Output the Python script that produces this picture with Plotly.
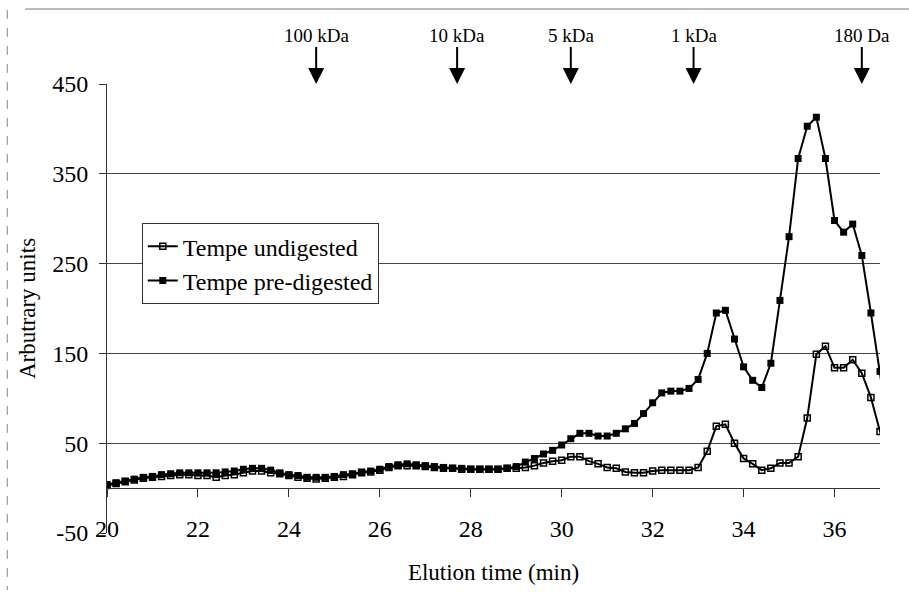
import plotly.graph_objects as go

# Elution time (min)
times = [20.0, 20.2, 20.4, 20.6, 20.8, 21.0, 21.2, 21.4, 21.6, 21.8,
         22.0, 22.2, 22.4, 22.6, 22.8, 23.0, 23.2, 23.4, 23.6, 23.8,
         24.0, 24.2, 24.4, 24.6, 24.8, 25.0, 25.2, 25.4, 25.6, 25.8,
         26.0, 26.2, 26.4, 26.6, 26.8, 27.0, 27.2, 27.4, 27.6, 27.8,
         28.0, 28.2, 28.4, 28.6, 28.8, 29.0, 29.2, 29.4, 29.6, 29.8,
         30.0, 30.2, 30.4, 30.6, 30.8, 31.0, 31.2, 31.4, 31.6, 31.8,
         32.0, 32.2, 32.4, 32.6, 32.8, 33.0, 33.2, 33.4, 33.6, 33.8,
         34.0, 34.2, 34.4, 34.6, 34.8, 35.0, 35.2, 35.4, 35.6, 35.8,
         36.0, 36.2, 36.4, 36.6, 36.8, 37.0, 37.2]

undigested = [3, 5, 7, 9, 11, 12, 13, 14, 15, 15,
              14, 14, 12, 14, 15, 17, 19, 19, 17, 16,
              14, 12, 11, 10, 11, 12, 13, 15, 17, 18,
              20, 23, 25, 25, 25, 24, 23, 22, 22, 21,
              21, 21, 21, 21, 22, 22, 23, 25, 28, 30,
              31, 35, 35, 30, 27, 23, 22, 18, 17, 17,
              19, 20, 20, 20, 20, 23, 41, 69, 71, 50,
              33, 27, 20, 22, 28, 28, 35, 78, 149, 158,
              134, 134, 143, 128, 101, 63, 30]

predigested = [4, 6, 8, 10, 12, 13, 15, 16, 17, 17,
               17, 17, 17, 18, 19, 21, 22, 22, 20, 17,
               15, 14, 12, 12, 12, 13, 15, 16, 18, 19,
               21, 24, 26, 27, 26, 25, 24, 23, 22, 22,
               21, 21, 21, 21, 22, 24, 29, 33, 38, 42,
               48, 55, 61, 61, 58, 58, 61, 66, 72, 83,
               95, 106, 108, 108, 111, 121, 150, 195, 198, 166,
               135, 120, 112, 139, 209, 280, 367, 403, 413, 367,
               298, 285, 294, 259, 195, 130, 60]

series_names = ["Tempe undigested", "Tempe pre-digested"]

mw_labels = ["100 kDa", "10 kDa", "5 kDa", "1 kDa", "180 Da"]
mw_times = [24.6, 27.7, 30.2, 32.9, 36.6]

x_ticks = [20, 22, 24, 26, 28, 30, 32, 34, 36]
y_ticks = [-50, 50, 150, 250, 350, 450]
y_tick_text = ["-50", "50", "150", "250", "350", "450"]

FONT = "Liberation Serif, Times New Roman, serif"

fig = go.Figure()
fig.add_trace(go.Scatter(
    x=times, y=undigested, name=series_names[0], mode="lines+markers",
    line=dict(color="black", width=2),
    marker=dict(symbol="square-open", size=6, color="black", line=dict(width=1.5, color="black")),
))
fig.add_trace(go.Scatter(
    x=times, y=predigested, name=series_names[1], mode="lines+markers",
    line=dict(color="black", width=2),
    marker=dict(symbol="square", size=7, color="black"),
))

for lab, t in zip(mw_labels, mw_times):
    fig.add_annotation(
        x=t, y=450, xref="x", yref="y", text=lab, showarrow=True,
        ax=0, ay=-49, arrowhead=2, arrowsize=1.6, arrowwidth=2, arrowcolor="black",
        font=dict(family=FONT, size=19, color="black"),
    )

# outer frame lines (scanned border)
fig.add_shape(type="line", xref="paper", yref="paper", x0=-0.106, x1=1.04, y0=1.167, y1=1.167,
              line=dict(color="#777", width=1))
fig.add_shape(type="line", xref="paper", yref="paper", x0=-0.129, x1=-0.129, y0=1.165, y1=-0.127,
              line=dict(color="#888", width=1, dash="dash"))

fig.update_layout(
    width=909, height=592,
    margin=dict(l=107, r=29, t=84, b=59),
    paper_bgcolor="white", plot_bgcolor="white",
    font=dict(family=FONT, size=24, color="black"),
    showlegend=True,
    legend=dict(
        x=0.045, y=0.69, xanchor="left", yanchor="top",
        bordercolor="#333", borderwidth=1, bgcolor="white",
        font=dict(family=FONT, size=24, color="black"),
        tracegroupgap=0, itemwidth=30,
    ),
    xaxis=dict(
        range=[20, 37], tickvals=x_ticks, showgrid=False, zeroline=False,
        anchor="free", position=0.1,
        showline=True, linecolor="#333", linewidth=1,
        ticks="outside", ticklen=8, tickcolor="#333",
        ticklabelstandoff=11,
        tickfont=dict(family=FONT, size=24),
        title=dict(text="Elution time (min)", font=dict(family=FONT, size=23), standoff=22),
    ),
    yaxis=dict(
        range=[-50, 450], tickvals=y_ticks, ticktext=y_tick_text,
        showgrid=True, gridcolor="#444", gridwidth=1,
        zeroline=False, showline=True, linecolor="#333", linewidth=1,
        ticks="outside", ticklen=7, tickcolor="#333",
        ticklabelstandoff=6,
        tickfont=dict(family=FONT, size=24),
        title=dict(text="Arbutrary units", font=dict(family=FONT, size=23), standoff=10),
    ),
)

fig.write_html("out.html")
